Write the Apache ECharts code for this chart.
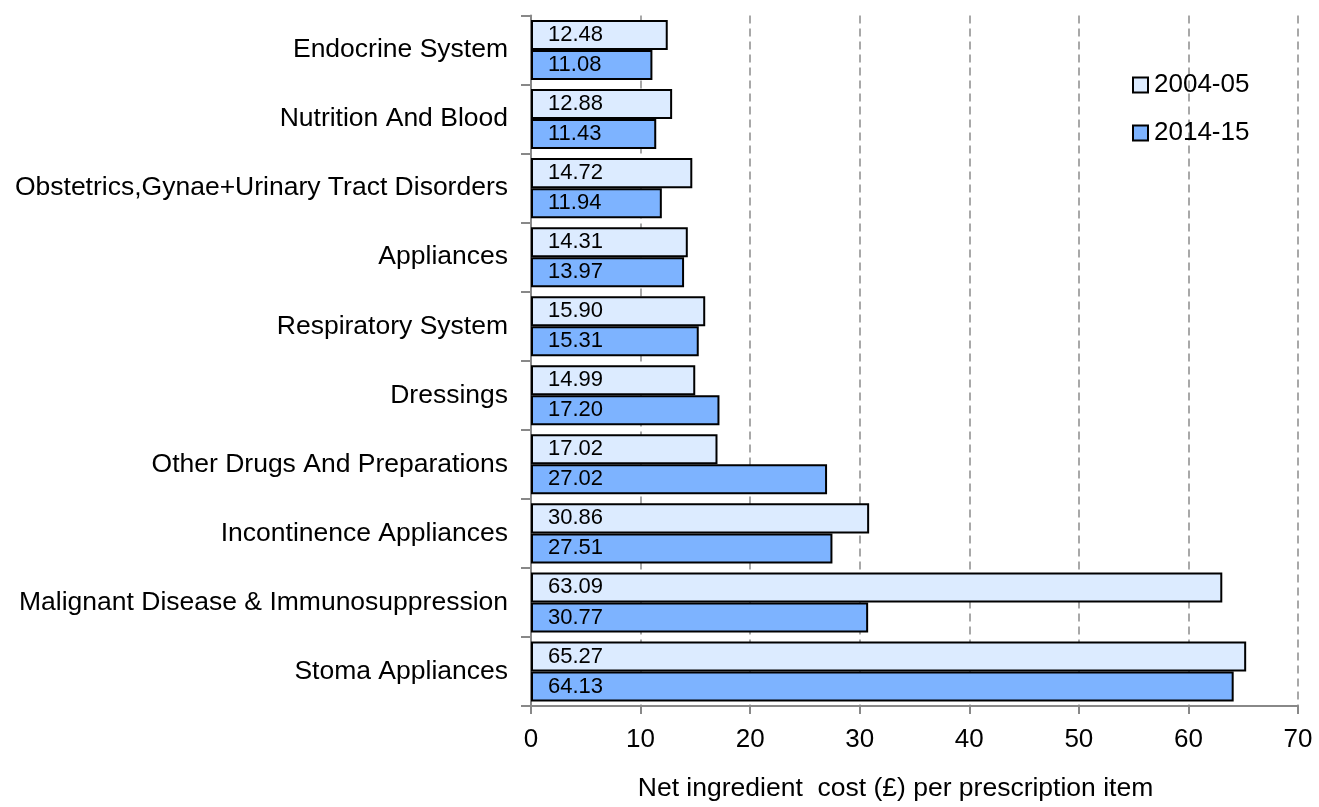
<!DOCTYPE html>
<html>
<head>
<meta charset="utf-8">
<script src="https://cdn.jsdelivr.net/npm/echarts@6/dist/echarts.min.js"></script>
<style>
html,body{margin:0;padding:0;background:#fff;}
#chart{width:1319px;height:807px;}
</style>
</head>
<body>
<div id="chart"></div>
<script>
var categories = ["Endocrine System","Nutrition And Blood","Obstetrics,Gynae+Urinary Tract Disorders","Appliances","Respiratory System","Dressings","Other Drugs And Preparations","Incontinence Appliances","Malignant Disease & Immunosuppression","Stoma Appliances"];
var values2004 = [12.48,12.88,14.72,14.31,15.90,14.99,17.02,30.86,63.09,65.27];
var values2014 = [11.08,11.43,11.94,13.97,15.31,17.20,27.02,27.51,30.77,64.13];
var seriesNames = ["2004-05","2014-15"];
var xTicks = {min:0, max:70, interval:10};
var axisTitle = "Net ingredient  cost (£) per prescription item";

var FONT = "Liberation Sans, Arial, sans-serif";
var chart = echarts.init(document.getElementById('chart'), null, {renderer:'canvas'});
function lbl(){
  return {show:true, position:'insideLeft', distance:17, color:'#000', fontSize:22, fontFamily:FONT,
    formatter:function(p){return p.value.toFixed(2);}};
}
chart.setOption({
  animation:false,
  backgroundColor:'#fff',
  grid:{left:531, right:21, top:15.5, bottom:94, containLabel:false},
  legend:{
    orient:'vertical', left:1127, top:67, icon:'rect', itemWidth:15, itemHeight:15, itemGap:22,
    textStyle:{fontSize:26, fontFamily:FONT, color:'#000', lineHeight:26, padding:[0,0,0,1]},
    itemStyle:{borderColor:'#000', borderWidth:2},
    data:seriesNames
  },
  xAxis:{
    type:'value', min:xTicks.min, max:xTicks.max, interval:xTicks.interval,
    name:axisTitle, nameLocation:'middle', nameGap:69,
    nameTextStyle:{fontSize:26.5, fontFamily:FONT, color:'#000', padding:[0,38,0,0]},
    axisLine:{show:true, lineStyle:{color:'#888', width:2}},
    axisTick:{show:true, length:8, lineStyle:{color:'#888', width:2}},
    axisLabel:{fontSize:26, fontFamily:FONT, color:'#000', margin:21},
    splitLine:{show:true, lineStyle:{color:'#8c8c8c', width:1.5, type:[8,5]}}
  },
  yAxis:{
    type:'category', data:categories, inverse:true,
    axisLine:{show:true, lineStyle:{color:'#888', width:2}},
    axisTick:{show:true, length:10, inside:false, lineStyle:{color:'#888', width:2}},
    axisLabel:{fontSize:26.5, fontFamily:FONT, color:'#000', margin:23},
    splitLine:{show:false}
  },
  series:[
    {name:seriesNames[0], type:'bar', data:values2004, barGap:'0%', barCategoryGap:'13%',
      itemStyle:{color:'#DCEBFF', borderColor:'#000', borderWidth:2}, label:lbl()},
    {name:seriesNames[1], type:'bar', data:values2014, barGap:'0%', barCategoryGap:'13%',
      itemStyle:{color:'#7DB3FF', borderColor:'#000', borderWidth:2}, label:lbl()}
  ]
});
</script>
</body>
</html>
